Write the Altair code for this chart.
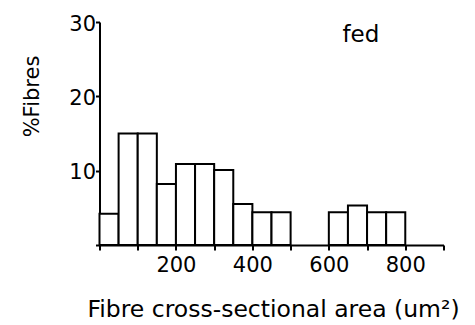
import altair as alt
import pandas as pd

# Histogram data (bin width 50 um^2)
bin_start = [0, 50, 100, 150, 200, 250, 300, 350, 400, 450, 600, 650, 700, 750]
bin_width = 50
percent = [4.2, 15.0, 15.0, 8.2, 10.9, 10.9, 10.1, 5.5, 4.4, 4.4, 4.4, 5.3, 4.4, 4.4]

x_ticks = [0, 100, 200, 300, 400, 500, 600, 700, 800, 900]
x_labels = [200, 400, 600, 800]
y_ticks = [0, 10, 20, 30]
y_labels = [10, 20, 30]

panel_label = "fed"
x_title = "Fibre cross-sectional area (um²)"
y_title = "%Fibres"

df = pd.DataFrame({
    "start": bin_start,
    "end": [s + bin_width for s in bin_start],
    "pct": percent,
})

FONT = "DejaVu Sans"
lab_x = " || ".join(f"datum.value == {v}" for v in x_labels)
lab_y = " || ".join(f"datum.value == {v}" for v in y_labels)

bars = alt.Chart(df).mark_rect(fill="white", stroke="black", strokeWidth=2).encode(
    x=alt.X("start:Q", scale=alt.Scale(domain=[0, 900], nice=False, zero=False),
            axis=alt.Axis(values=x_ticks, labelExpr=f"({lab_x}) ? datum.label : ''",
                          title=x_title, titleX=173.5, titleY=71,
                          titleBaseline="alphabetic", titleFontSize=23.5,
                          tickSize=5, labelPadding=4, labelFontSize=21)),
    x2="end:Q",
    y=alt.Y("pct:Q", scale=alt.Scale(domain=[0, 30], nice=False),
            axis=alt.Axis(values=y_ticks, labelExpr=f"({lab_y}) ? datum.label : ''",
                          title=y_title, titleX=-67, titleY=74, titleAngle=-90,
                          titleBaseline="middle", titleAlign="center",
                          titleFontSize=21, tickSize=4, labelPadding=0,
                          labelOffset=2, labelFontSize=21)),
    y2=alt.datum(0),
)

label = alt.Chart(pd.DataFrame({"t": [panel_label]})).mark_text(
    font=FONT, fontSize=23, align="left", baseline="alphabetic", color="black"
).encode(text="t:N", x=alt.value(243), y=alt.value(20))

chart = (bars + label).properties(
    width=344, height=223,
    autosize=alt.AutoSizeParams(type="none"),
    padding={"left": 91.5, "top": 14, "right": 23.5, "bottom": 80},
).configure_view(stroke=None).configure_axis(
    grid=False, domainColor="black", domainWidth=2, tickColor="black", tickWidth=2,
    labelColor="black", titleColor="black", labelFont=FONT, titleFont=FONT,
    titleFontWeight="normal", labelFlush=False,
)

chart.save("out.html", embed_options={"renderer": "svg", "actions": False})
